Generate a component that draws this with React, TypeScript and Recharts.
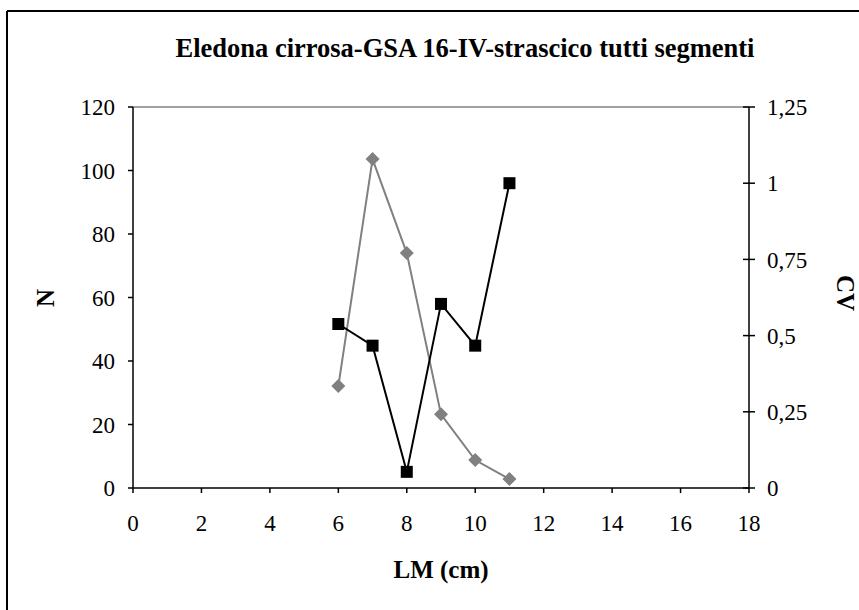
import React from 'react';
import { LineChart, Line, XAxis, YAxis, ReferenceLine } from 'recharts';

// LM classes (cm) and the two series
const lengths = [6, 7, 8, 9, 10, 11];
const counts = [32.1, 103.6, 74, 23.2, 8.8, 2.8];
const cvValues = [0.538, 0.467, 0.053, 0.604, 0.467, 1.0];

const xTicks = [0, 2, 4, 6, 8, 10, 12, 14, 16, 18];
const nTicks = [0, 20, 40, 60, 80, 100, 120];
const cvTicks = [0, 0.25, 0.5, 0.75, 1, 1.25];

const data = lengths.map((lm, i) => ({ lm, n: counts[i], cv: cvValues[i] }));

const FONT = 'Liberation Serif, Tinos, DejaVu Serif, serif';
const GREY = '#808080';

const Diamond = (p: any) => {
  const { cx, cy, index } = p;
  if (cx == null || cy == null) return null;
  const r = 7;
  return (
    <polygon
      key={`d-${index}`}
      points={`${cx},${cy - r} ${cx + r},${cy} ${cx},${cy + r} ${cx - r},${cy}`}
      fill={GREY}
    />
  );
};

const Square = (p: any) => {
  const { cx, cy, index } = p;
  if (cx == null || cy == null) return null;
  const s = 12;
  return <rect key={`s-${index}`} x={cx - s / 2} y={cy - s / 2} width={s} height={s} fill="#000" />;
};

// right axis ticks cross the axis line, like the original
const CvTick = (p: any) => {
  const { x, y, payload } = p;
  const label = String(payload.value).replace('.', ',');
  return (
    <g>
      <line x1={x - 24} x2={x - 12} y1={y} y2={y} stroke="#000" strokeWidth={1.5} />
      <text x={x} y={y} dy="0.355em" textAnchor="start" fontSize={23} style={{ fontFamily: FONT }} fill="#000">
        {label}
      </text>
    </g>
  );
};

const boldText = { fontFamily: FONT, fontWeight: 'bold' as const, fontSize: 25 };

export default function App() {
  const tickStyle = { fontSize: 23, fontFamily: FONT, fill: '#000' };
  return (
    <div style={{ position: 'absolute', left: 0, top: 0, width: 859, height: 610, background: '#fff', overflow: 'hidden', fontFamily: FONT }}>
      <LineChart width={859} height={610} data={data} margin={{ top: 107, right: 0, bottom: 82, left: 0 }} style={{ fontFamily: FONT }}>
        <XAxis
          dataKey="lm"
          type="number"
          domain={[0, 18]}
          ticks={xTicks}
          height={40}
          tickSize={5}
          tickMargin={22}
          tick={tickStyle}
          axisLine={{ stroke: '#000', strokeWidth: 1.5 }}
          tickLine={{ stroke: '#000', strokeWidth: 1.5 }}
        />
        <YAxis
          yAxisId="n"
          orientation="left"
          domain={[0, 120]}
          ticks={nTicks}
          width={133}
          tickSize={5}
          tickMargin={13}
          tick={tickStyle}
          axisLine={{ stroke: '#000', strokeWidth: 1.5 }}
          tickLine={{ stroke: '#000', strokeWidth: 1.5 }}
        />
        <YAxis
          yAxisId="cv"
          orientation="right"
          domain={[0, 1.25]}
          ticks={cvTicks}
          width={110}
          tickSize={6}
          tickMargin={12}
          tick={<CvTick />}
          tickLine={false}
          axisLine={{ stroke: '#000', strokeWidth: 1.5 }}
        />
        <ReferenceLine yAxisId="n" y={120} stroke={GREY} strokeWidth={1.5} />
        <Line
          yAxisId="n"
          dataKey="n"
          stroke={GREY}
          strokeWidth={2}
          dot={Diamond}
          activeDot={false}
          isAnimationActive={false}
        />
        <Line
          yAxisId="cv"
          dataKey="cv"
          stroke="#000"
          strokeWidth={2}
          dot={Square}
          activeDot={false}
          isAnimationActive={false}
        />
        <line x1={7} y1={11} x2={859} y2={11} stroke="#000" strokeWidth={2} />
        <line x1={7} y1={11} x2={7} y2={610} stroke="#000" strokeWidth={2} />
        <text x={465} y={57} textAnchor="middle" style={{ ...boldText, fontSize: 26.5 }} fill="#000">
          Eledona cirrosa-GSA 16-IV-strascico tutti segmenti
        </text>
        <text x={441} y={578} textAnchor="middle" style={boldText} fill="#000">
          LM (cm)
        </text>
        <text
          transform="translate(45,298) rotate(-90)"
          textAnchor="middle"
          dominantBaseline="central"
          style={boldText}
          fill="#000"
        >
          N
        </text>
        <text
          transform="translate(845,293) rotate(90)"
          textAnchor="middle"
          dominantBaseline="central"
          style={boldText}
          fill="#000"
        >
          CV
        </text>
      </LineChart>
    </div>
  );
}
